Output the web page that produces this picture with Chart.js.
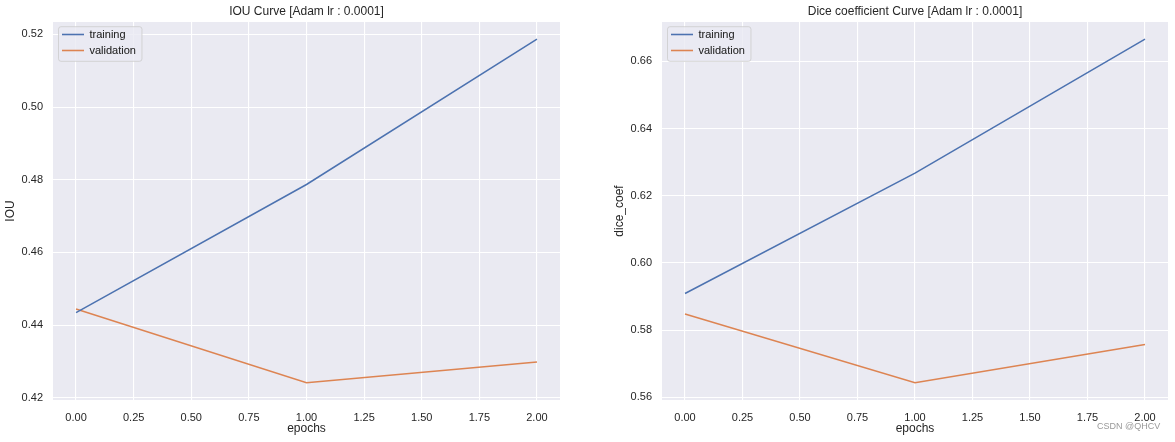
<!DOCTYPE html>
<html>
<head>
<meta charset="utf-8">
<script src="https://cdn.jsdelivr.net/npm/chart.js@4.4.1/dist/chart.umd.min.js"></script>
<style>
  body { margin: 0; background: #fff; }
  #wrap { position: relative; width: 1175px; height: 442px; }
  canvas { position: absolute; top: 0; }
  #iou { left: 0; }
  #dice { left: 587px; }
  #mark { position: absolute; left: 1097px; top: 421px; font: 9px "Liberation Sans", Arial, sans-serif; color: #999; }
</style>
</head>
<body>
<div id="wrap">
  <canvas id="iou" width="587" height="442"></canvas>
  <canvas id="dice" width="588" height="442"></canvas>
  <div id="mark">CSDN @QHCV</div>
</div>
<script>
/* ---- data ---- */
var epochs = [0, 1, 2];
var iouTrain = [0.4434, 0.4787, 0.5187];
var iouVal = [0.4444, 0.4241, 0.4298];
var diceTrain = [0.5909, 0.6267, 0.6666];
var diceVal = [0.5848, 0.5643, 0.5757];
var seriesNames = ["training", "validation"];
var xStep = 0.25;
var yStep = 0.02;

Chart.defaults.font.family = '"Liberation Sans", Arial, sans-serif';
Chart.defaults.color = '#262626';

function points(ys) {
    return epochs.map(function (e, i) { return { x: e, y: ys[i] }; });
}

// seaborn darkgrid face
var plotBackground = {
    id: 'plotBackground',
    beforeDraw: function (chart) {
        var a = chart.chartArea, c = chart.ctx;
        c.save();
        c.fillStyle = '#eaeaf2';
        c.fillRect(a.left, a.top, a.right - a.left, a.bottom - a.top);
        c.restore();
    }
};

// matplotlib-like legend frame, legend redrawn on top of it
var legendFrame = {
    id: 'legendFrame',
    afterLayout: function (chart) {
        // pin legend to the upper left corner of the plot
        chart.legend.left = chart.chartArea.left + 4;
        chart.legend.top = chart.chartArea.top + 2;
    },
    afterDatasetsDraw: function (chart) {
        var L = chart.legend, c = chart.ctx;
        var pad = L.options.labels.padding;
        c.save();
        c.font = '11px "Liberation Sans", Arial, sans-serif';
        var w = 0;
        L.legendItems.forEach(function (it) { w = Math.max(w, c.measureText(it.text).width); });
        var x = L.left + pad - 3.5, y = L.top + pad - 2.3;
        var fw = 3.5 + 22 + 5.5 + w + 6, fh = 34.6, r = 2.5;
        c.beginPath();
        c.moveTo(x + r, y);
        c.arcTo(x + fw, y, x + fw, y + fh, r);
        c.arcTo(x + fw, y + fh, x, y + fh, r);
        c.arcTo(x, y + fh, x, y, r);
        c.arcTo(x, y, x + fw, y, r);
        c.closePath();
        c.fillStyle = 'rgba(234,234,242,0.8)';
        c.fill();
        c.lineWidth = 1;
        c.strokeStyle = 'rgba(204,204,204,0.8)';
        c.stroke();
        c.restore();
        L.draw();
    }
};

function makeChart(id, title, yLabel, train, val, yAxisWidth, padRight, yTitlePad) {
    var all = train.concat(val);
    var lo = Math.min.apply(null, all), hi = Math.max.apply(null, all);
    var m = (hi - lo) * 0.05;

    return new Chart(document.getElementById(id), {
        type: 'line',
        data: {
            datasets: [{
                label: seriesNames[0],
                data: points(train),
                borderColor: '#4c72b0',
                backgroundColor: '#4c72b0',
                borderWidth: 1.5,
                pointRadius: 0,
                tension: 0
            }, {
                label: seriesNames[1],
                data: points(val),
                borderColor: '#dd8452',
                backgroundColor: '#dd8452',
                borderWidth: 1.5,
                pointRadius: 0,
                tension: 0
            }]
        },
        options: {
            responsive: false,
            animation: false,
            layout: { padding: { left: 0, right: padRight, top: 0, bottom: 0 } },
            plugins: {
                title: {
                    display: true,
                    text: title,
                    fullSize: false,
                    font: { size: 12, weight: 'normal' },
                    color: '#262626',
                    padding: { top: 4, bottom: 3.6 }
                },
                legend: {
                    position: 'chartArea',
                    align: 'start',
                    labels: {
                        usePointStyle: true,
                        pointStyle: 'line',
                        pointStyleWidth: 22,
                        padding: 5,
                        font: { size: 11 },
                        color: '#262626'
                    }
                },
                tooltip: { enabled: false }
            },
            scales: {
                x: {
                    type: 'linear',
                    min: epochs[0] - (epochs[epochs.length - 1] - epochs[0]) * 0.05,
                    max: epochs[epochs.length - 1] + (epochs[epochs.length - 1] - epochs[0]) * 0.05,
                    afterFit: function (s) { s.height = 42; },
                    border: { display: false },
                    grid: { color: '#ffffff', lineWidth: 1.1, drawTicks: false },
                    ticks: {
                        stepSize: xStep,
                        includeBounds: false,
                        autoSkip: false,
                        padding: 11,
                        font: { size: 11 },
                        callback: function (v) { return v.toFixed(2); }
                    },
                    title: {
                        display: true,
                        text: 'epochs',
                        font: { size: 12 },
                        padding: { top: 0, bottom: 6.5 }
                    }
                },
                y: {
                    min: lo - m,
                    max: hi + m,
                    afterFit: function (s) { s.width = yAxisWidth; },
                    border: { display: false },
                    grid: { color: '#ffffff', lineWidth: 1.1, drawTicks: false },
                    ticks: {
                        stepSize: yStep,
                        includeBounds: false,
                        autoSkip: false,
                        padding: 10,
                        font: { size: 11 },
                        callback: function (v) { return v.toFixed(2); }
                    },
                    title: {
                        display: true,
                        text: yLabel,
                        font: { size: 12 },
                        padding: { top: yTitlePad, bottom: 0 }
                    }
                }
            }
        },
        plugins: [plotBackground, legendFrame]
    });
}

makeChart('iou', 'IOU Curve [Adam lr : 0.0001]', 'IOU', iouTrain, iouVal, 53, 27, 3.5);
makeChart('dice', 'Dice coefficient Curve [Adam lr : 0.0001]', 'dice_coef', diceTrain, diceVal, 75, 7, 25.8);
</script>
</body>
</html>
